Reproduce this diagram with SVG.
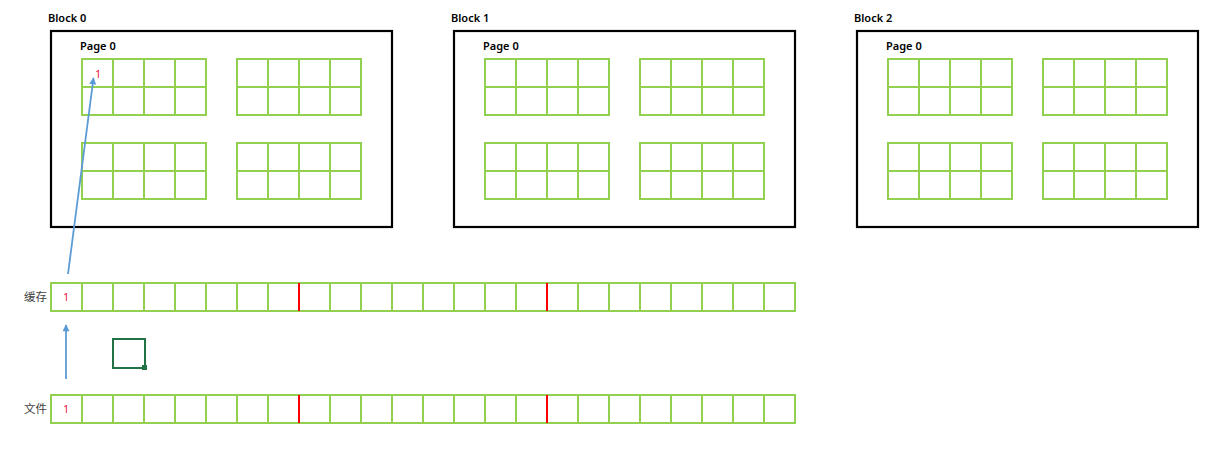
<svg xmlns="http://www.w3.org/2000/svg" xmlns:xlink="http://www.w3.org/1999/xlink" width="1219" height="449" viewBox="0 0 1219 449">
<style>
.blk{fill:#fff;stroke:#000;stroke-width:2.2}
.g{fill:none;stroke:#92d050;stroke-width:2}
.red{stroke:#ff0000;stroke-width:2}
.lbl{font-family:"Noto Sans","Liberation Sans",sans-serif;font-size:11px;font-weight:600;fill:#000}
.cn{font-family:"Noto Sans CJK SC","Noto Sans",sans-serif;font-size:11.5px;fill:#404040}
.one{font-family:"Noto Sans","Liberation Sans",sans-serif;font-size:11px;fill:#f0143c}
.arr{stroke:#5b9bd5;stroke-width:1.8;fill:none;marker-end:url(#ah)}
</style>
<defs>
<marker id="ah" viewBox="0 0 10 10" refX="9" refY="5" markerWidth="8" markerHeight="7" orient="auto" markerUnits="userSpaceOnUse">
<path d="M0,0 L10,5 L0,10 z" fill="#5b9bd5"/>
</marker>
<g id="page">
<rect class="g" x="0" y="0" width="124" height="56"/>
<path class="g" d="M31,0V56M62,0V56M93,0V56M0,28H124"/>
</g>
<g id="pages">
<use xlink:href="#page" x="31" y="28"/>
<use xlink:href="#page" x="186" y="28"/>
<use xlink:href="#page" x="31" y="112"/>
<use xlink:href="#page" x="186" y="112"/>
</g>
<g id="row">
<rect class="g" x="0" y="0" width="744" height="28"/>
<path class="g" d="M31,0V28M62,0V28M93,0V28M124,0V28M155,0V28M186,0V28M217,0V28M279,0V28M310,0V28M341,0V28M372,0V28M403,0V28M434,0V28M465,0V28M527,0V28M558,0V28M589,0V28M620,0V28M651,0V28M682,0V28M713,0V28"/>
<path class="red" d="M248,0V28M496,0V28"/>
</g>
</defs>

<g id="block0">
<text class="lbl" x="48" y="22">Block 0</text>
<rect class="blk" x="51" y="31" width="341" height="196"/>
<text class="lbl" x="80" y="50">Page 0</text>
<use xlink:href="#pages" x="51" y="31"/>
<text class="one" x="95" y="78">1</text>
</g>

<g id="block1">
<text class="lbl" x="451" y="22">Block 1</text>
<rect class="blk" x="454" y="31" width="341" height="196"/>
<text class="lbl" x="483" y="50">Page 0</text>
<use xlink:href="#pages" x="454" y="31"/>
</g>

<g id="block2">
<text class="lbl" x="854" y="22">Block 2</text>
<rect class="blk" x="857" y="31" width="341" height="196"/>
<text class="lbl" x="886" y="50">Page 0</text>
<use xlink:href="#pages" x="857" y="31"/>
</g>

<g id="cache">
<text class="cn" x="24" y="301">缓存</text>
<use xlink:href="#row" x="51" y="283"/>
<text class="one" x="63" y="301">1</text>
</g>

<g id="file">
<text class="cn" x="24" y="413">文件</text>
<use xlink:href="#row" x="51" y="395"/>
<text class="one" x="63" y="413">1</text>
</g>

<g id="selection">
<rect x="113" y="339" width="32" height="29" fill="none" stroke="#217346" stroke-width="2"/>
<rect x="142" y="365" width="5" height="5" fill="#217346"/>
</g>

<g id="connectors">
<line class="arr" x1="68" y1="274" x2="93.5" y2="78"/>
<line class="arr" x1="66" y1="379" x2="66" y2="325"/>
</g>
</svg>
